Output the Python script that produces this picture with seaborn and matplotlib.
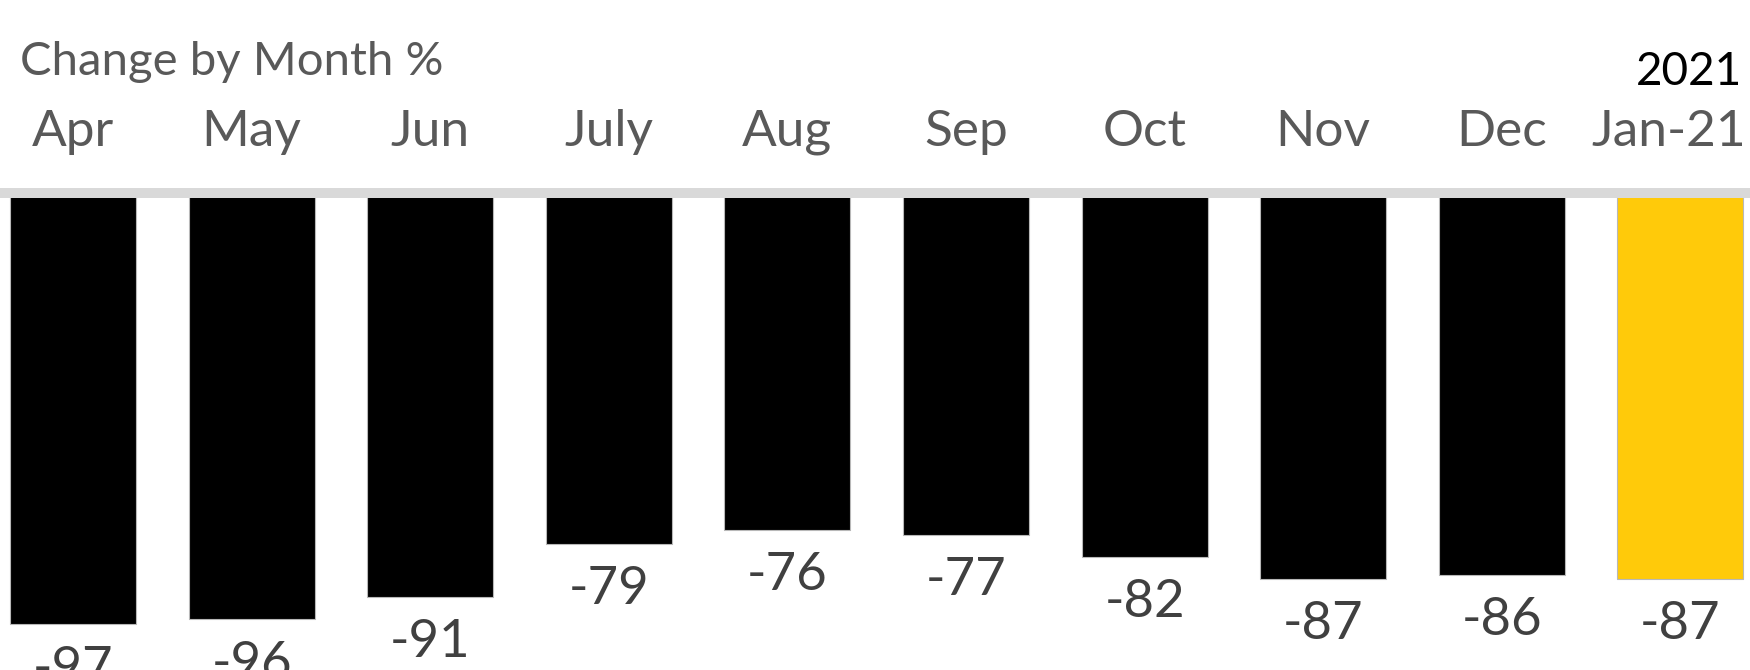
import matplotlib
matplotlib.use("Agg")
import matplotlib.pyplot as plt
import seaborn as sns

months = ["Apr", "May", "Jun", "July", "Aug", "Sep", "Oct", "Nov", "Dec", "Jan-21"]
values = [-97, -96, -91, -79, -76, -77, -82, -87, -86, -87]
bar_colors = ["#000000"] * 9 + ["#FFCA0A"]
title = "Change by Month %"
year_label = "2021"

sns.set_style("white")
plt.rcParams["font.family"] = ["Lato", "DejaVu Sans"]

W, H = 1750, 670
fig = plt.figure(figsize=(W / 100, H / 100), dpi=100)
ax_top_px = 193
ax = fig.add_axes([0, 0, 1, 1 - ax_top_px / H])

sns.barplot(x=months, y=values, hue=months, palette=bar_colors, legend=False,
            width=0.705, edgecolor="#b8b8b8", linewidth=0.8, saturation=1, ax=ax)

px_per_unit = 4.44
ax.set_ylim(-(H - ax_top_px) / px_per_unit, 0)
step = 178.6
c0 = 73
ax.set_xlim(-c0 / step, (W - c0) / step)

for s in ["left", "right", "bottom"]:
    ax.spines[s].set_visible(False)
ax.spines["top"].set_color("#d9d9d9")
ax.spines["top"].set_linewidth(10 * 0.72)
ax.spines["top"].set_zorder(5)
ax.set_xticks([])
ax.set_yticks([])
ax.set_xlabel("")
ax.set_ylabel("")

ax_h_px = H - ax_top_px
label_y = 1 + 47 / ax_h_px
for i, m in enumerate(months):
    if i == len(months) - 1:
        ax.text(1 - 4 / W, label_y, m, transform=ax.transAxes,
                ha="right", va="baseline", fontsize=37, color="#595959")
    else:
        ax.text(i, label_y, m, transform=ax.get_xaxis_transform(),
                ha="center", va="baseline", fontsize=37, color="#595959")

for i, v in enumerate(values):
    ax.annotate(f"{v}", xy=(i, v), xytext=(0, -60 * 0.72), textcoords="offset points",
                ha="center", va="baseline", fontsize=38, color="#404040",
                annotation_clip=False)

fig.text(20 / W, 1 - 75 / H, title, ha="left", va="baseline", fontsize=34, color="#595959")
fig.text(1742 / W, 1 - 85 / H, year_label, ha="right", va="baseline", fontsize=33, color="#000000")

fig.savefig("out.png", dpi=100)
